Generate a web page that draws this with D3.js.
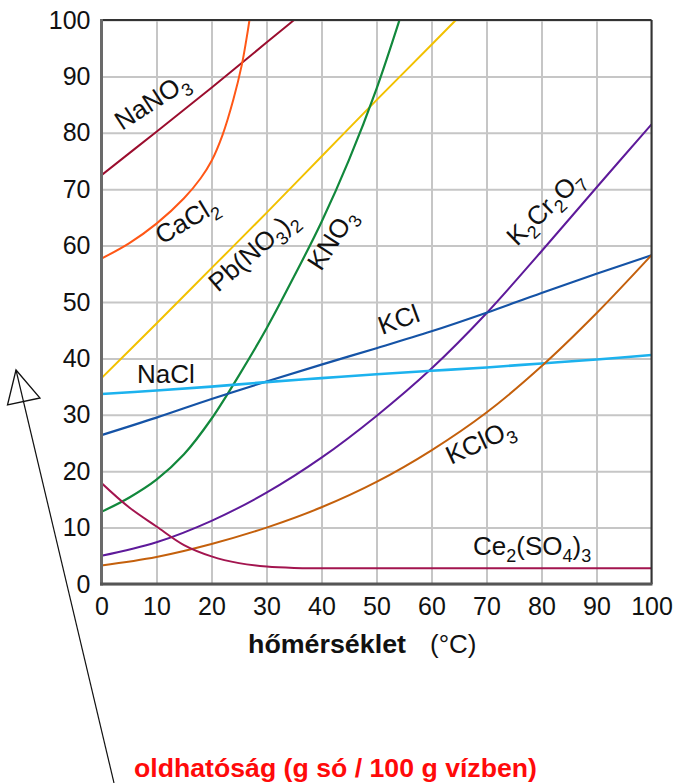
<!DOCTYPE html>
<html>
<head>
<meta charset="utf-8">
<script src="https://cdn.jsdelivr.net/npm/d3@7"></script>
<style>
  html, body { margin: 0; padding: 0; background: #fff; }
  svg { display: block; font-family: "Liberation Sans", Arial, Helvetica, sans-serif; }
</style>
</head>
<body>
<svg id="chart" width="677" height="783"></svg>
<script>
// Solubility (g salt / 100 g water) against temperature (°C)
const xTicks = [0, 10, 20, 30, 40, 50, 60, 70, 80, 90, 100];
const yTicks = [0, 10, 20, 30, 40, 50, 60, 70, 80, 90, 100];

const NaNO3 = [[0, 72.5], [10, 80.2], [20, 88.0], [30, 96.0], [40, 104.0]];
const CaCl2 = [[0, 57.7], [5, 60.4], [10, 63.9], [15, 68.4], [18, 71.9], [20, 75.0], [22, 79.6],
               [24, 86.0], [25.5, 92.0], [26.3, 96.3], [26.9, 100], [27.3, 103]];
const PbNO32 = [[0, 36.5], [10, 46.2], [20, 56.0], [30, 65.8], [40, 75.8], [50, 85.8], [60, 95.6], [70, 105.5]];
const KNO3 = [[0, 12.8], [5, 15.3], [10, 18.5], [15, 23.0], [20, 29.3], [25, 37.0], [30, 45.3],
              [35, 54.5], [40, 64.2], [45, 75.2], [50, 87.8], [55, 102.5]];
const K2Cr2O7 = [[0, 5.0], [10, 7.4], [20, 11.2], [30, 16.2], [40, 22.4], [50, 29.8], [60, 38.2],
                 [70, 48.0], [80, 59.0], [90, 70.3], [100, 81.5]];
const KCl = [[0, 26.4], [10, 29.5], [20, 32.8], [30, 35.9], [40, 38.9], [50, 41.8], [60, 44.8],
             [70, 48.1], [80, 51.6], [90, 55.0], [100, 58.3]];
const NaCl = [[0, 33.7], [10, 34.3], [20, 35.0], [30, 35.8], [40, 36.5], [50, 37.2], [60, 37.8],
              [70, 38.4], [80, 39.1], [90, 39.8], [100, 40.6]];
const KClO3 = [[0, 3.3], [10, 4.8], [20, 7.1], [30, 10.0], [40, 13.6], [50, 18.1], [60, 23.7],
               [70, 30.4], [80, 38.6], [90, 48.0], [100, 58.3]];
const Ce2SO43 = [[0, 17.9], [5, 13.6], [10, 10.2], [15, 6.9], [20, 4.9], [25, 3.7], [30, 3.1],
                 [35, 2.85], [40, 2.8], [60, 2.8], [80, 2.8], [100, 2.8]];

const series = [
  { data: NaNO3,   color: "#9b0d2e", width: 2 },
  { data: CaCl2,   color: "#ff5716", width: 2 },
  { data: PbNO32,  color: "#f2c100", width: 2 },
  { data: KNO3,    color: "#12883c", width: 2.2 },
  { data: K2Cr2O7, color: "#5e1a9a", width: 2 },
  { data: KCl,     color: "#1553a6", width: 2.2 },
  { data: NaCl,    color: "#1cb2ee", width: 2.6 },
  { data: KClO3,   color: "#c4600c", width: 2 },
  { data: Ce2SO43, color: "#a3154f", width: 2 }
];

// curve labels: text parts [string, isSubscript], baseline start point, rotation
const labels = [
  { parts: [["NaNO", 0], ["3", 1]], px: 122, py: 131, rot: -33 },
  { parts: [["CaCl", 0], ["2", 1]], px: 162, py: 245, rot: -31 },
  { parts: [["Pb(NO", 0], ["3", 1], [")", 0], ["2", 1]], px: 218, py: 293, rot: -41 },
  { parts: [["KNO", 0], ["3", 1]], px: 321, py: 272, rot: -57 },
  { parts: [["K", 0], ["2", 1], ["Cr", 0], ["2", 1], ["O", 0], ["7", 1]], px: 517, py: 247, rot: -44 },
  { parts: [["KCl", 0]], px: 382, py: 335, rot: -20 },
  { parts: [["NaCl", 0]], px: 137, py: 383, rot: 0 },
  { parts: [["KClO", 0], ["3", 1]], px: 451, py: 465, rot: -25 },
  { parts: [["Ce", 0], ["2", 1], ["(SO", 0], ["4", 1], [")", 0], ["3", 1]], px: 473, py: 555, rot: 0 }
];

const svg = d3.select("#chart");
const plotLeft = 101.5, plotRight = 651.5, plotTop = 20, plotBottom = 584;

const x = d3.scaleLinear().domain([0, 100]).range([plotLeft, plotRight]);
const y = d3.scaleLinear().domain([0, 100]).range([plotBottom, plotTop]);

// grid + tick labels
const gx = svg.append("g").attr("transform", `translate(0,${plotBottom})`)
  .call(d3.axisBottom(x).tickValues(xTicks).tickSize(-(plotBottom - plotTop)).tickPadding(13));
const gy = svg.append("g").attr("transform", `translate(${plotLeft},0)`)
  .call(d3.axisLeft(y).tickValues(yTicks).tickSize(-(plotRight - plotLeft)).tickPadding(11));

[gx, gy].forEach(g => {
  g.select(".domain").remove();
  g.selectAll(".tick line").attr("stroke", "#c6c6c6").attr("stroke-width", 2);
  g.selectAll(".tick text").attr("fill", "#111").style("font-size", "25px")
    .style("font-family", '"Liberation Sans", Arial, sans-serif');
});

// clip curves to the plotting frame
svg.append("clipPath").attr("id", "plotClip")
  .append("rect").attr("x", plotLeft).attr("y", plotTop)
  .attr("width", plotRight - plotLeft).attr("height", plotBottom - plotTop);

const line = d3.line().x(d => x(d[0])).y(d => y(d[1])).curve(d3.curveCatmullRom.alpha(0.5));

svg.append("g").attr("clip-path", "url(#plotClip)")
  .selectAll("path").data(series).join("path")
  .attr("d", d => line(d.data))
  .attr("fill", "none")
  .attr("stroke", d => d.color)
  .attr("stroke-width", d => d.width)
  .attr("stroke-linejoin", "round");

// frame: heavier grey left/bottom, dark thin top/right
svg.append("line").attr("x1", plotLeft).attr("x2", plotRight).attr("y1", plotTop).attr("y2", plotTop)
  .attr("stroke", "#333").attr("stroke-width", 2);
svg.append("line").attr("x1", plotRight).attr("x2", plotRight).attr("y1", plotTop).attr("y2", plotBottom)
  .attr("stroke", "#333").attr("stroke-width", 2);
svg.append("line").attr("x1", plotLeft).attr("x2", plotLeft).attr("y1", plotTop - 1).attr("y2", plotBottom + 1.5)
  .attr("stroke", "#6a6a6a").attr("stroke-width", 3);
svg.append("line").attr("x1", plotLeft - 1.5).attr("x2", plotRight + 1).attr("y1", plotBottom).attr("y2", plotBottom)
  .attr("stroke", "#555").attr("stroke-width", 3);

// curve labels
const lab = svg.append("g").attr("fill", "#111").style("font-size", "26px");
labels.forEach(l => {
  const t = lab.append("text")
    .attr("transform", `translate(${l.px},${l.py}) rotate(${l.rot})`);
  let sub = false;
  l.parts.forEach(([s, isSub]) => {
    const ts = t.append("tspan").text(s);
    if (isSub && !sub) { ts.attr("dy", 7).style("font-size", "18px"); sub = true; }
    else if (isSub) { ts.style("font-size", "18px"); }
    else if (sub) { ts.attr("dy", -7); sub = false; }
  });
});

// x axis title
const xt = svg.append("text").attr("x", 248).attr("y", 653).attr("fill", "#111").style("font-size", "26px");
xt.append("tspan").style("font-weight", "bold")
  .attr("textLength", 158).attr("lengthAdjust", "spacingAndGlyphs").text("hőmérséklet");
xt.append("tspan").attr("x", 430).text("(°C)");

// y axis pointer arrow and its caption
svg.append("line").attr("x1", 114).attr("y1", 783).attr("x2", 16).attr("y2", 370)
  .attr("stroke", "#111").attr("stroke-width", 1.2);
svg.append("path").attr("d", "M16,370 L7.5,405 L40,398 Z")
  .attr("fill", "none").attr("stroke", "#111").attr("stroke-width", 1.3);

svg.append("text").attr("x", 134).attr("y", 777).attr("fill", "#ff0a0a")
  .style("font-size", "26px").style("font-weight", "bold")
  .attr("textLength", 403).attr("lengthAdjust", "spacingAndGlyphs")
  .text("oldhatóság (g só / 100 g vízben)");
</script>
</body>
</html>
